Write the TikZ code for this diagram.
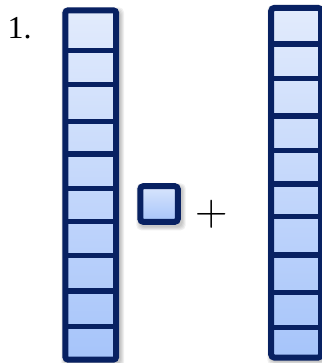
\documentclass[tikz,border=0pt]{standalone}
\usepackage{fontspec}
\newfontfamily\timesf{Liberation Serif}
\definecolor{navy}{RGB}{8,33,98}
\definecolor{ctop}{RGB}{226,235,252}
\definecolor{cbot}{RGB}{166,196,250}
\definecolor{stop}{RGB}{216,229,252}
\tikzset{
  frame/.style={draw=navy, line width=6pt, rounded corners=3pt, top color=ctop, bottom color=cbot},
  sqframe/.style={draw=navy, line width=6pt, rounded corners=3pt, top color=stop, bottom color=cbot},
  divider/.style={draw=navy, line width=5.5pt},
  shad/.style={fill=black, opacity=0.06, rounded corners=5pt},
}
\begin{document}
\begin{tikzpicture}[x=1pt,y=-1pt]
\useasboundingbox (0,0) rectangle (321,363);
% soft shadows
\foreach \d in {0,1,2,3}{
  \path[shad] (62.3+2-\d,7.3+3-\d) rectangle (119+2+\d,362.7+2+\d);
  \path[shad] (268.3+2-\d,5+3-\d) rectangle (324+2+\d,360+2+\d);
  \path[shad] (137.3+2-\d,183.3+3-\d) rectangle (180.7+2+\d,224.3+3+\d);
}
% left column
\path[frame] (65.3,10.3) rectangle (116.2,359.7);
\foreach \y in {50.3,84.7,121.7,154.2,188.3,221.7,255.5,291.2,326.3}
  \draw[divider] (65.3,\y) -- (116.2,\y);
% right column
\path[frame] (271.2,8) rectangle (321.2,357.5);
\foreach \y in {43.8,78.5,115.8,150.5,184.2,216.3,255.2,292.5,327.5}
  \draw[divider] (271.2,\y) -- (321.2,\y);
% small square
\path[sqframe] (140.3,186.2) rectangle (177.8,221.8);
% texts
\node[anchor=base west, inner sep=0pt, font=\timesf\fontsize{32}{32}\selectfont] (num) at (7.5,38.3) {1.};
\node[anchor=base, inner sep=0pt, font=\fontsize{45}{45}\selectfont] (plus) at (211.7,225.8) {+};
\end{tikzpicture}
\end{document}
